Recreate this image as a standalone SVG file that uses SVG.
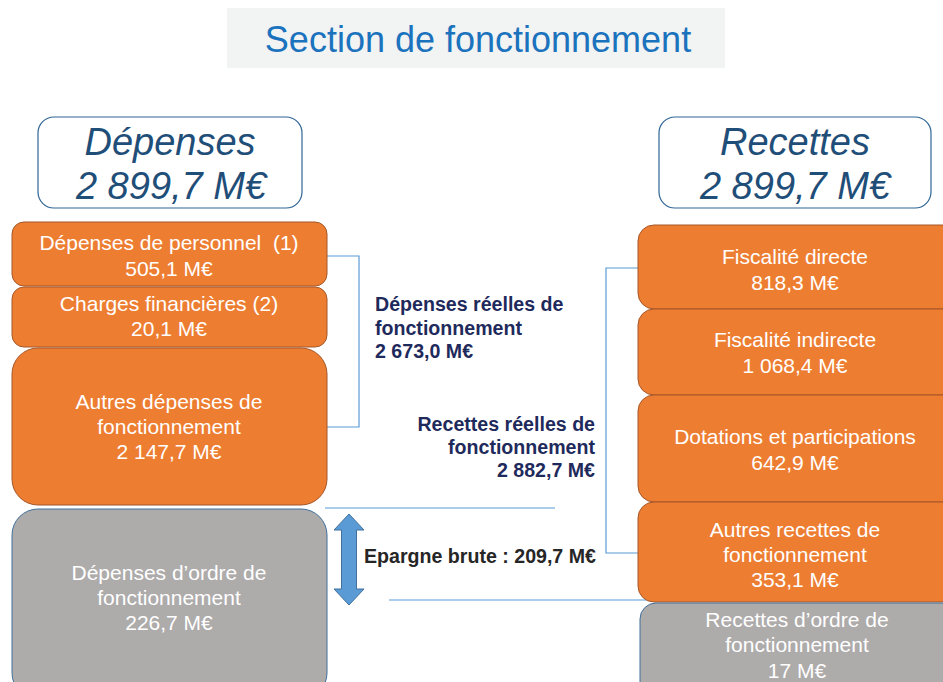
<svg xmlns="http://www.w3.org/2000/svg" width="943" height="682" viewBox="0 0 943 682">
<style>
.o{fill:#ed7d31;stroke:#a5572a;stroke-width:1}
.g{fill:#aeabab;stroke:#41719c;stroke-width:1}
.h{fill:#fff;stroke:#2e6496;stroke-width:1.2}
.t{font-family:"Liberation Sans",Arial,sans-serif;font-size:21px;fill:#fff;text-anchor:middle;white-space:pre}
.big{font-family:"Liberation Sans",Arial,sans-serif;font-size:38px;font-style:italic;fill:#1f4e79;text-anchor:middle}
.b{font-family:"Liberation Sans",Arial,sans-serif;font-size:19.6px;font-weight:bold;fill:#1f2a5c}
.ln{fill:none;stroke:#5b9bd5;stroke-width:1.2}
</style>
<rect width="943" height="682" fill="#fff"/>
<g id="title">
<rect x="227" y="8" width="498" height="60" fill="#f2f3f3"/>
<text x="478" y="52" font-family="Liberation Sans,Arial,sans-serif" font-size="36" fill="#1b72bd" text-anchor="middle">Section de fonctionnement</text>
</g>
<g id="connectors">
<polyline class="ln" points="327,256 359,256 359,427 327,427"/>
<polyline class="ln" points="638,268 606,268 606,553 638,553"/>
<line class="ln" x1="325" y1="508" x2="555" y2="508"/>
<line class="ln" x1="389" y1="600" x2="660" y2="600"/>
</g>
<g id="depenses-header">
<rect class="h" x="38" y="117" width="264" height="91" rx="16"/>
<text class="big" x="170" y="155">Dépenses</text>
<text class="big" x="171" y="199">2 899,7 M€</text>
</g>
<g id="recettes-header">
<rect class="h" x="659" y="117" width="272" height="91" rx="16"/>
<text class="big" x="795" y="155">Recettes</text>
<text class="big" x="795" y="199">2 899,7 M€</text>
</g>
<g id="dep-personnel">
<rect class="o" x="12" y="222" width="315" height="64" rx="12"/>
<text class="t" x="169" y="250" xml:space="preserve">Dépenses de personnel  (1)</text>
<text class="t" x="169" y="276">505,1 M€</text>
</g>
<g id="charges-fin">
<rect class="o" x="12" y="287" width="315" height="60" rx="12"/>
<text class="t" x="169" y="311">Charges financières (2)</text>
<text class="t" x="169" y="336">20,1 M€</text>
</g>
<g id="autres-dep">
<rect class="o" x="12" y="348" width="315" height="157" rx="26"/>
<text class="t" x="169" y="409">Autres dépenses de</text>
<text class="t" x="169" y="434">fonctionnement</text>
<text class="t" x="169" y="459">2 147,7 M€</text>
</g>
<g id="dep-ordre">
<rect class="g" x="12" y="509" width="315" height="190" rx="26"/>
<text class="t" x="169" y="580">Dépenses d’ordre de</text>
<text class="t" x="169" y="605">fonctionnement</text>
<text class="t" x="169" y="630">226,7 M€</text>
</g>
<g id="fisc-directe">
<rect class="o" x="638" y="225" width="320" height="84" rx="16"/>
<text class="t" x="795" y="264">Fiscalité directe</text>
<text class="t" x="795" y="290">818,3 M€</text>
</g>
<g id="fisc-indirecte">
<rect class="o" x="638" y="309" width="320" height="86" rx="16"/>
<text class="t" x="795" y="347">Fiscalité indirecte</text>
<text class="t" x="795" y="373">1 068,4 M€</text>
</g>
<g id="dotations">
<rect class="o" x="638" y="395" width="320" height="107" rx="16"/>
<text class="t" x="795" y="444">Dotations et participations</text>
<text class="t" x="795" y="470">642,9 M€</text>
</g>
<g id="autres-rec">
<rect class="o" x="638" y="502" width="320" height="100" rx="16"/>
<text class="t" x="795" y="537">Autres recettes de</text>
<text class="t" x="795" y="562">fonctionnement</text>
<text class="t" x="795" y="587">353,1 M€</text>
</g>
<g id="rec-ordre">
<rect class="g" x="640" y="603" width="320" height="100" rx="16"/>
<text class="t" x="797" y="627">Recettes d’ordre de</text>
<text class="t" x="797" y="652">fonctionnement</text>
<text class="t" x="797" y="678">17 M€</text>
</g>
<g id="dep-reelles">
<text class="b" x="375" y="311">Dépenses réelles de</text>
<text class="b" x="375" y="335">fonctionnement</text>
<text class="b" x="375" y="358">2 673,0 M€</text>
</g>
<g id="rec-reelles">
<text class="b" x="595" y="431" text-anchor="end">Recettes réelles de</text>
<text class="b" x="595" y="454" text-anchor="end">fonctionnement</text>
<text class="b" x="595" y="477" text-anchor="end">2 882,7 M€</text>
</g>
<g id="epargne">
<polygon points="349,514 364,530 356.5,530 356.5,589 364,589 349,605 334,589 341.5,589 341.5,530 334,530" fill="#5b9bd5" stroke="#41719c" stroke-width="1"/>
<text class="b" x="364" y="563" style="fill:#262626">Epargne brute : 209,7 M€</text>
</g>
</svg>
